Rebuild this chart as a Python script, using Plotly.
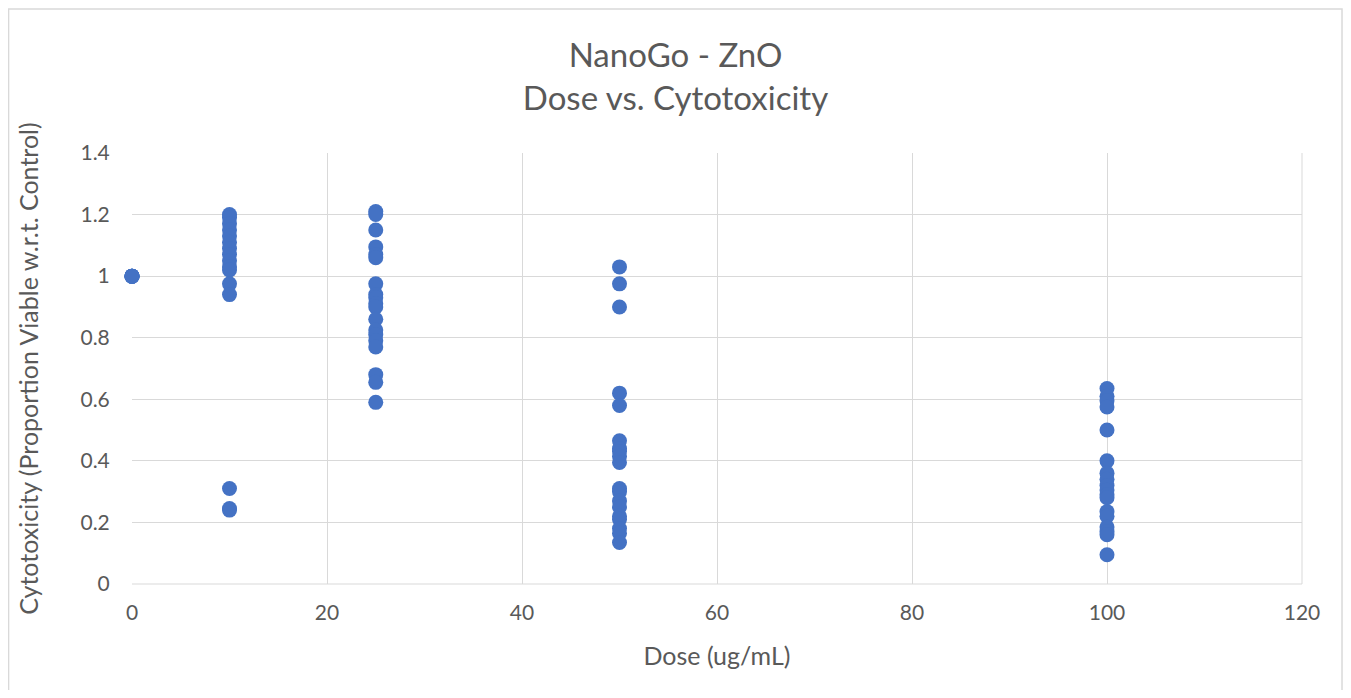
import plotly.graph_objects as go

dose_0 = [1.0, 1.0, 1.0, 1.0, 1.0, 1.0]
dose_10 = [1.2, 1.19, 1.17, 1.15, 1.13, 1.11, 1.09, 1.07, 1.05, 1.03, 1.02, 0.975, 0.94, 0.31, 0.245, 0.24]
dose_25 = [1.21, 1.2, 1.15, 1.095, 1.07, 1.06, 0.975, 0.94, 0.93, 0.91, 0.9, 0.86, 0.825, 0.81, 0.79, 0.77, 0.68, 0.655, 0.59]
dose_50 = [1.03, 0.975, 0.9, 0.62, 0.58, 0.465, 0.44, 0.43, 0.415, 0.395, 0.31, 0.3, 0.27, 0.25, 0.22, 0.21, 0.18, 0.165, 0.135]
dose_100 = [0.635, 0.61, 0.595, 0.575, 0.5, 0.4, 0.36, 0.34, 0.32, 0.305, 0.29, 0.28, 0.235, 0.22, 0.185, 0.17, 0.16, 0.095]

groups = [(0, dose_0), (10, dose_10), (25, dose_25), (50, dose_50), (100, dose_100)]
xs, ys = [], []
for d, vals in groups:
    xs += [d] * len(vals)
    ys += vals

fig = go.Figure(go.Scatter(x=xs, y=ys, mode="markers", cliponaxis=False,
                           marker=dict(color="#4472C4", size=15, line=dict(width=0)),
                           showlegend=False))

font = "Lato, 'Open Sans', sans-serif"
grey = "#595959"
fig.update_layout(
    width=1335, height=682,
    margin=dict(l=124, r=41, t=145, b=106),
    paper_bgcolor="white", plot_bgcolor="white",
    font=dict(family=font, color=grey),
    title=dict(text="NanoGo - ZnO<br>Dose vs. Cytotoxicity", x=0.5, xanchor="center",
               y=0.914, yanchor="top", font=dict(size=33, color=grey, family=font)),
    xaxis=dict(range=[0, 120], dtick=20, showgrid=True, gridcolor="#d9d9d9", gridwidth=1,
               zeroline=False, showline=False, ticks="outside", ticklen=10, tickcolor="rgba(0,0,0,0)",
               tickfont=dict(size=21, color=grey),
               title=dict(text="Dose (ug/mL)", font=dict(size=25, color=grey), standoff=24)),
    yaxis=dict(range=[0, 1.4], dtick=0.2, showgrid=True, gridcolor="#d9d9d9", gridwidth=1,
               zeroline=False, showline=False, ticks="outside", ticklen=17, tickcolor="rgba(0,0,0,0)",
               tickfont=dict(size=21, color=grey),
               tickformat="~g",
               title=dict(text="Cytotoxicity (Proportion Viable w.r.t. Control)",
                          font=dict(size=25, color=grey), standoff=34)),
    shapes=[
        dict(type="rect", xref="paper", yref="paper", x0=-0.1055, x1=1.0342, y0=-0.6, y1=1.334,
             line=dict(color="#d9d9d9", width=1.5), layer="below"),
        dict(type="line", xref="paper", yref="paper", x0=0, x1=1, y0=0, y1=0,
             line=dict(color="#d9d9d9", width=1), layer="below"),
        dict(type="line", xref="paper", yref="paper", x0=1, x1=1, y0=0, y1=1,
             line=dict(color="#d9d9d9", width=1), layer="below"),
    ],
)
fig.write_html("out.html")
